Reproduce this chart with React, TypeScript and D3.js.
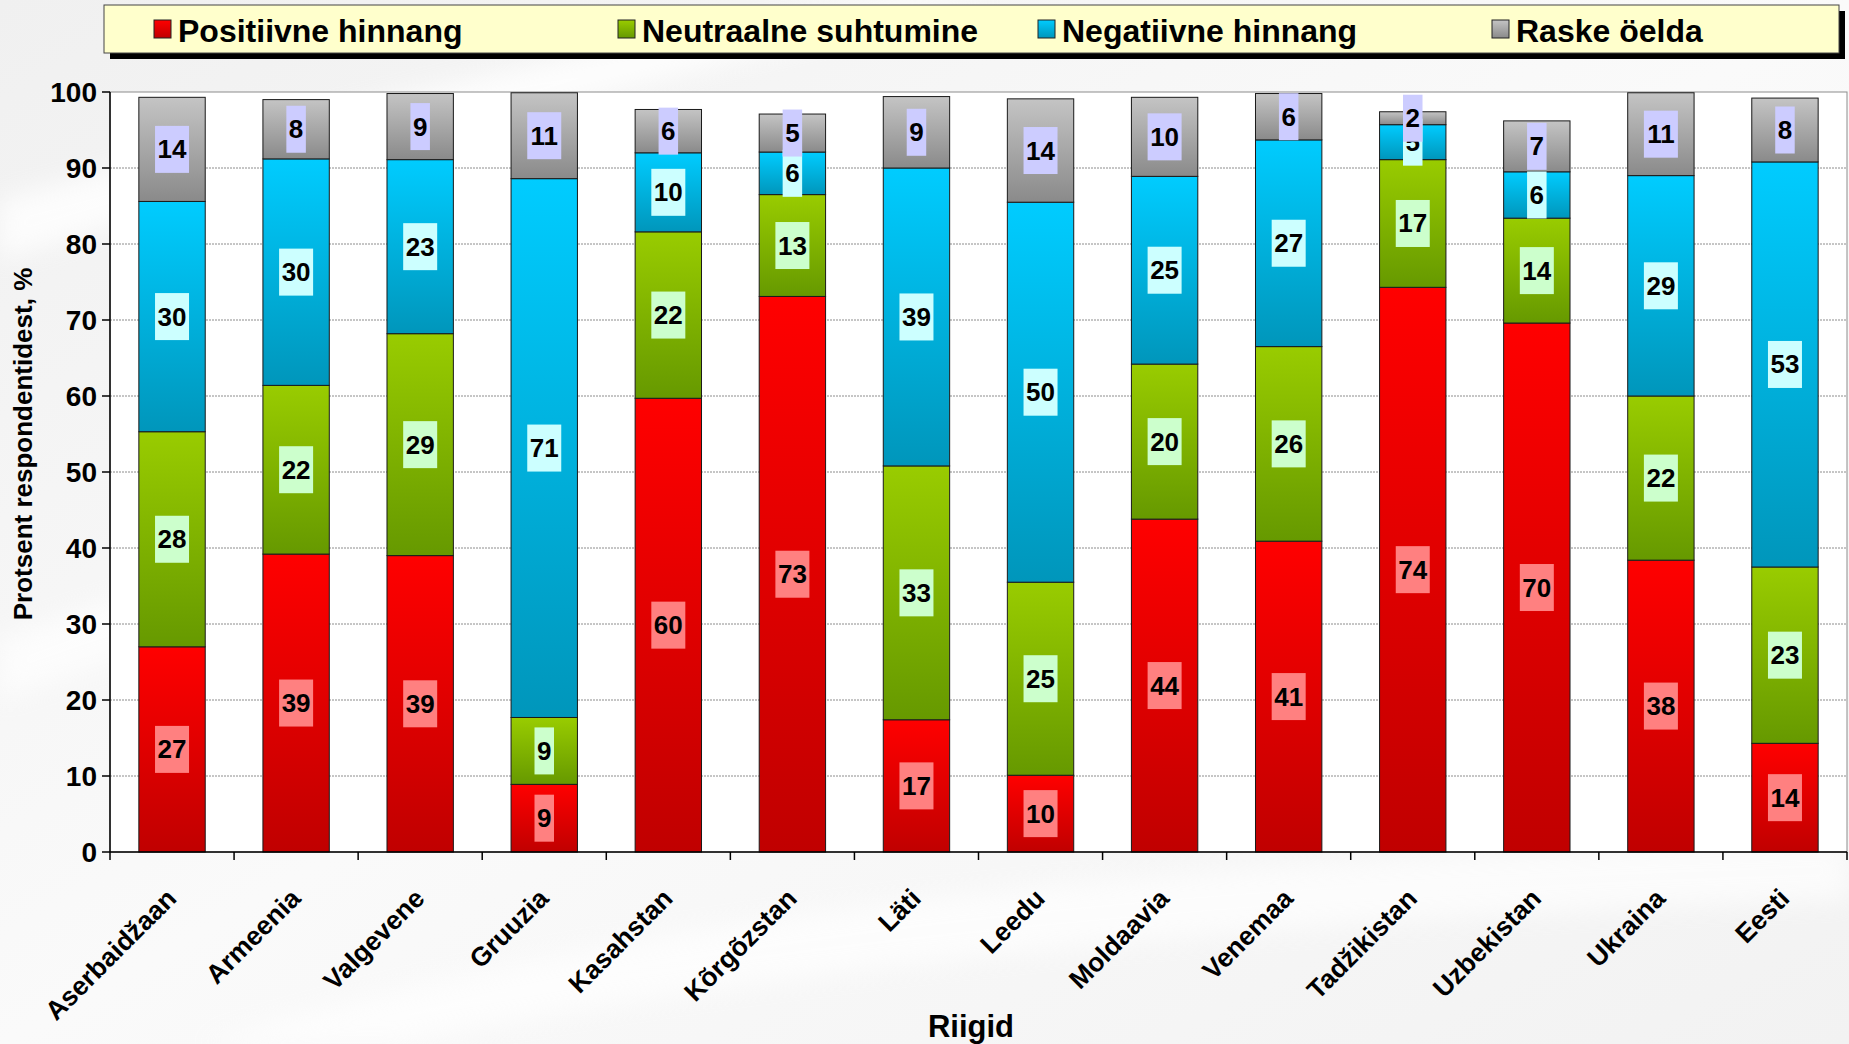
import React from "react";
import * as d3 from "d3";

const categories = ["Aserbaidžaan", "Armeenia", "Valgevene", "Gruuzia", "Kasahstan", "Kõrgõzstan", "Läti", "Leedu", "Moldaavia", "Venemaa", "Tadžikistan", "Uzbekistan", "Ukraina", "Eesti"];
const positive = [27.0, 39.2, 39.0, 8.9, 59.7, 73.1, 17.4, 10.1, 43.8, 40.9, 74.3, 69.6, 38.4, 14.3];
const neutral = [28.3, 22.2, 29.2, 8.8, 21.9, 13.4, 33.4, 25.4, 20.4, 25.6, 16.8, 13.8, 21.6, 23.2];
const negative = [30.3, 29.8, 22.9, 70.9, 10.4, 5.6, 39.2, 50.0, 24.7, 27.2, 4.6, 6.1, 29.0, 53.3];
const hard = [13.7, 7.8, 8.7, 11.3, 5.7, 5.0, 9.4, 13.6, 10.4, 6.1, 1.7, 6.7, 10.9, 8.4];
const seriesNames = ["Positiivne hinnang", "Neutraalne suhtumine", "Negatiivne hinnang", "Raske öelda"];
const yTicks = [0, 10, 20, 30, 40, 50, 60, 70, 80, 90, 100];

const W = 1849, H = 1044;
const X0 = 110, X1 = 1847, Y0 = 852, Y1 = 92;
const FONT = "'Liberation Sans', Arial, sans-serif";

const styles = [
  { id: "gPos", top: "#ff0000", bot: "#c00000", box: "#ff8080" },
  { id: "gNeu", top: "#99cc00", bot: "#669900", box: "#ccffcc" },
  { id: "gNeg", top: "#00ccff", bot: "#0096bb", box: "#ccffff" },
  { id: "gHar", top: "#c4c4c4", bot: "#8a8a8a", box: "#ccccff" },
];
const legendX = [154, 618, 1038, 1492];

export default function App() {
  const series = [positive, neutral, negative, hard];
  const x = d3.scaleBand<string>().domain(categories).range([X0, X1]).paddingInner(0.465).paddingOuter(0.2325);
  const y = d3.scaleLinear().domain([0, 100]).range([Y0, Y1]);
  const step = x.step();
  const table = categories.map((c, i) => ({ c, v: series.map(s => s[i]) }));
  const stacked = d3.stack<any>().keys([0, 1, 2, 3] as any).value((d: any, k: any) => d.v[k])(table as any);

  const measure = (t: string) => t.length * 14.5;

  return (
    <svg width={W} height={H} style={{ position: "absolute", left: 0, top: 0 }} fontFamily={FONT}>
      <defs>
        {styles.map(s => (
          <linearGradient key={s.id} id={s.id} x1="0" y1="0" x2="0" y2="1">
            <stop offset="0" stopColor={s.top} />
            <stop offset="1" stopColor={s.bot} />
          </linearGradient>
        ))}
        <linearGradient id="bg" x1="0" y1="0" x2="1" y2="1">
          <stop offset="0" stopColor="#f0f0f0" />
          <stop offset="0.5" stopColor="#fafafa" />
          <stop offset="1" stopColor="#f2f2f2" />
        </linearGradient>
        <filter id="blur"><feGaussianBlur stdDeviation="12" /></filter>
      </defs>
      <rect x={0} y={0} width={W} height={H} fill="url(#bg)" />
      <path d="M0,200 C300,120 500,60 900,0 L1000,0 C600,90 300,170 0,260 Z" fill="#ffffff" opacity={0.8} filter="url(#blur)" />
      <path d="M0,640 C200,560 500,500 900,470 L900,500 C500,540 250,610 0,700 Z" fill="#ffffff" opacity={0.7} filter="url(#blur)" />
      <path d="M200,1044 C600,920 1100,860 1849,840 L1849,900 C1200,920 700,980 400,1044 Z" fill="#ffffff" opacity={0.7} filter="url(#blur)" />

      {/* legend */}
      <rect x={110} y={11} width={1735} height={48} fill="#000" />
      <rect x={104} y={5} width={1735} height={48} fill="#ffffcc" stroke="#444" strokeWidth={1} />
      {seriesNames.map((n, i) => (
        <g key={n}>
          <rect x={legendX[i]} y={20} width={17} height={18} fill={`url(#${styles[i].id})`} stroke="#222" strokeWidth={1} />
          <text x={legendX[i] + 24} y={42} fontSize={32} fontWeight="bold" fill="#000">{n}</text>
        </g>
      ))}

      {/* plot area */}
      <rect x={X0} y={Y1} width={X1 - X0} height={Y0 - Y1} fill="#ffffff" stroke="#8c8c8c" strokeWidth={1} />
      {yTicks.filter(t => t > 0 && t < 100).map(t => (
        <line key={t} x1={X0} x2={X1} y1={y(t)} y2={y(t)} stroke="#8c8c8c" strokeWidth={1} strokeDasharray="2,1" />
      ))}

      {/* bars */}
      {stacked.map((layer, si) => (
        <g key={si}>
          {layer.map((d: any, i: number) => (
            <rect key={i} x={x(categories[i])} y={y(d[1])} width={x.bandwidth()} height={y(d[0]) - y(d[1])}
              fill={`url(#${styles[si].id})`} stroke="#1a1a1a" strokeWidth={1} />
          ))}
        </g>
      ))}
      {stacked.map((layer, si) => (
        <g key={"l" + si}>
          {layer.map((d: any, i: number) => {
            const label = String(Math.round(series[si][i]));
            const cx = (x(categories[i]) as number) + x.bandwidth() / 2;
            const cy = y((d[0] + d[1]) / 2);
            const w = measure(label) + 5;
            return (
              <g key={i}>
                <rect x={cx - w / 2} y={cy - 23.5} width={w} height={47} fill={styles[si].box} />
                <text x={cx} y={cy + 9} textAnchor="middle" fontSize={26} fontWeight="bold" fill="#000">{label}</text>
              </g>
            );
          })}
        </g>
      ))}

      {/* axes */}
      <line x1={X0} x2={X0} y1={Y1} y2={Y0} stroke="#000" strokeWidth={1.5} />
      <line x1={X0} x2={X1} y1={Y0} y2={Y0} stroke="#000" strokeWidth={1.5} />
      {yTicks.map(t => (
        <g key={t}>
          <line x1={X0 - 8} x2={X0} y1={y(t)} y2={y(t)} stroke="#000" strokeWidth={1.5} />
          <text x={97} y={y(t) + 10} textAnchor="end" fontSize={28} fontWeight="bold" fill="#000">{t}</text>
        </g>
      ))}
      {d3.range(categories.length + 1).map(i => (
        <line key={i} x1={X0 + i * step} x2={X0 + i * step} y1={Y0} y2={Y0 + 8} stroke="#000" strokeWidth={1.5} />
      ))}
      {categories.map(c => {
        const cx = (x(c) as number) + x.bandwidth() / 2;
        return (
          <text key={c} transform={`translate(${cx + 6},${900}) rotate(-45)`} textAnchor="end" fontSize={26.5} fontWeight="bold" fill="#000">{c}</text>
        );
      })}

      <text transform={`translate(32,444) rotate(-90)`} textAnchor="middle" fontSize={26} fontWeight="bold" fill="#000">Protsent respondentidest, %</text>
      <text x={971} y={1037} textAnchor="middle" fontSize={31} fontWeight="bold" fill="#000">Riigid</text>
    </svg>
  );
}
